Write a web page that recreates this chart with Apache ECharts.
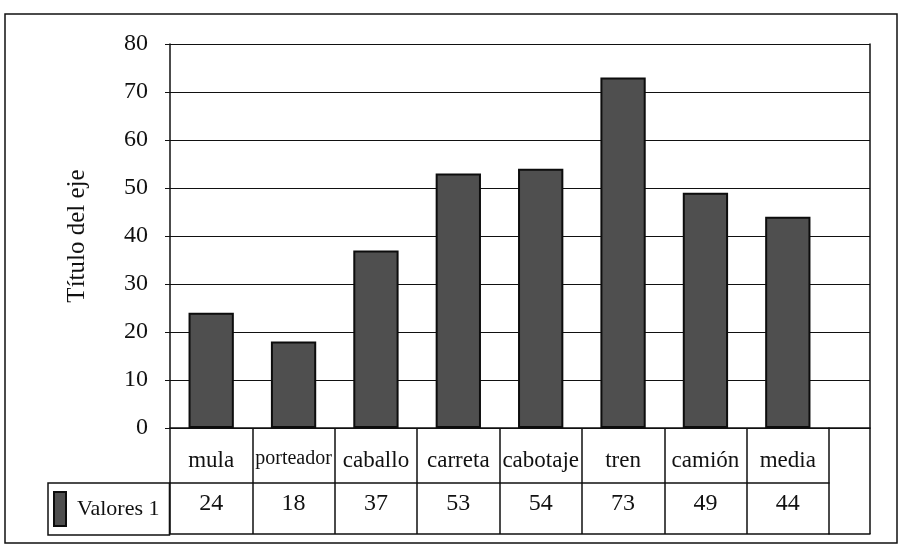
<!DOCTYPE html>
<html>
<head>
<meta charset="utf-8">
<script src="https://cdn.jsdelivr.net/npm/echarts@6/dist/echarts.min.js"></script>
<style>
  html, body { margin: 0; padding: 0; background: #fff; }
  #chart { width: 902px; height: 549px; }
</style>
</head>
<body>
<div id="chart"></div>
<script>
var categories = ['mula', 'porteador', 'caballo', 'carreta', 'cabotaje', 'tren', 'camión', 'media'];
var values = [24, 18, 37, 53, 54, 73, 49, 44];
var seriesName = 'Valores 1';
var axisTitle = 'Título del eje';

var serif = '"Liberation Serif", "DejaVu Serif", serif';
var ink = '#111';

var dom = document.getElementById('chart');
var myChart = echarts.init(dom, null, {renderer: 'canvas'});

var option = {
  backgroundColor: '#fff',
  animation: false,
  graphic: [{
    type: 'rect',
    shape: {x: 5, y: 14, width: 892, height: 529},
    style: {fill: 'none', stroke: ink, lineWidth: 1.5},
    silent: true
  }],
  legend: {
    data: [seriesName],
    left: 48,
    top: 483,
    icon: 'rect',
    itemWidth: 12,
    itemHeight: 34,
    borderColor: ink,
    borderWidth: 1.5,
    borderRadius: 0,
    padding: [8, 10, 8, 5],
    textStyle: {fontFamily: serif, fontSize: 22, color: ink, padding: [0, 0, 0, 6]}
  },
  grid: [
    {left: 170, right: 73, top: 44, height: 384},
    {left: 829, right: 32, top: 44, height: 384}
  ],
  xAxis: [
    {
      type: 'category',
      gridIndex: 0,
      data: categories,
      axisLine: {lineStyle: {color: ink, width: 1.5}},
      axisTick: {show: true, interval: 0, length: 106, lineStyle: {color: ink, width: 1.5}},
      axisLabel: {
        interval: 0, margin: 21, fontFamily: serif, fontSize: 23, color: ink,
        formatter: function (v) { return v === 'porteador' ? '{s|' + v + '}' : v; },
        rich: {s: {fontFamily: serif, fontSize: 20, color: ink}}
      }
    },
    {
      type: 'category',
      gridIndex: 0,
      position: 'bottom',
      offset: 55,
      data: values.map(String),
      axisLine: {lineStyle: {color: ink, width: 1.5}},
      axisTick: {show: false},
      axisLabel: {interval: 0, margin: 9, fontFamily: serif, fontSize: 24, color: ink}
    },
    {
      type: 'category',
      gridIndex: 0,
      position: 'bottom',
      offset: 106,
      data: categories,
      axisLine: {lineStyle: {color: ink, width: 1.5}},
      axisTick: {show: false},
      axisLabel: {show: false}
    },
    {
      type: 'category',
      gridIndex: 1,
      data: [''],
      axisLine: {lineStyle: {color: ink, width: 1.5}},
      axisTick: {show: true, interval: 0, length: 106, lineStyle: {color: ink, width: 1.5}},
      axisLabel: {show: false}
    },
    {
      type: 'category',
      gridIndex: 1,
      position: 'bottom',
      offset: 106,
      data: [''],
      axisLine: {lineStyle: {color: ink, width: 1.5}},
      axisTick: {show: false},
      axisLabel: {show: false}
    }
  ],
  yAxis: [
    {
      type: 'value',
      gridIndex: 0,
      min: 0,
      max: 80,
      interval: 10,
      name: axisTitle,
      nameLocation: 'middle',
      nameGap: 80,
      nameRotate: 90,
      nameTextStyle: {fontFamily: serif, fontSize: 25, color: ink},
      axisLine: {show: true, lineStyle: {color: ink, width: 1.5}},
      axisTick: {show: true, length: 5, lineStyle: {color: ink}},
      axisLabel: {margin: 22, fontFamily: serif, fontSize: 24, color: ink},
      splitLine: {show: true, lineStyle: {color: ink, width: 1.2}}
    },
    {
      type: 'value',
      gridIndex: 1,
      min: 0,
      max: 80,
      interval: 10,
      position: 'right',
      axisLine: {show: true, lineStyle: {color: ink, width: 1.5}},
      axisTick: {show: false},
      axisLabel: {show: false},
      splitLine: {show: true, lineStyle: {color: ink, width: 1.2}}
    }
  ],
  series: [{
    name: seriesName,
    type: 'bar',
    xAxisIndex: 0,
    yAxisIndex: 0,
    data: values,
    barWidth: '55%',
    itemStyle: {color: '#4f4f4f', borderColor: '#0d0d0d', borderWidth: 2}
  }]
};

myChart.setOption(option);
</script>
</body>
</html>
